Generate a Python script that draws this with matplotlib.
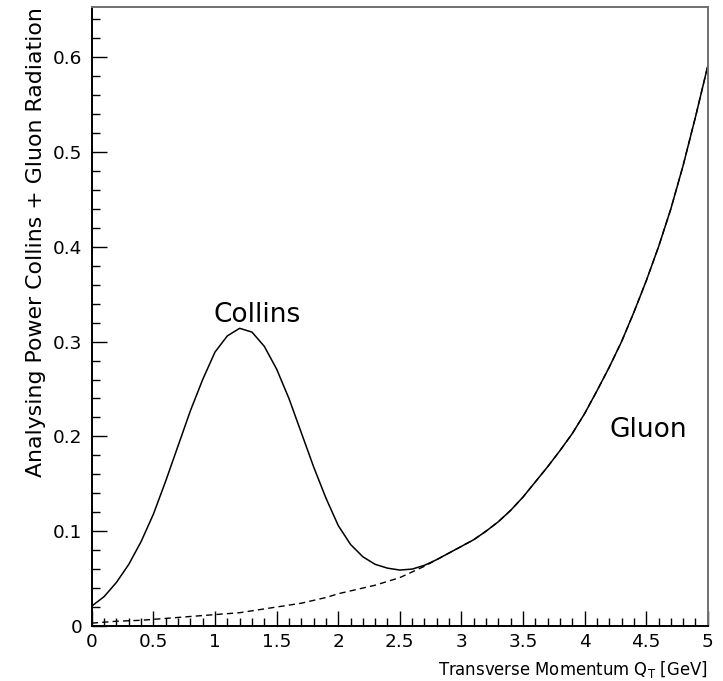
import matplotlib
matplotlib.use("Agg")
import matplotlib.pyplot as plt
from matplotlib.ticker import MultipleLocator

plt.rcParams['font.family'] = ['DejaVu Sans']

qt = [round(0.1 * i, 1) for i in range(51)]

gluon = [0.003, 0.004, 0.005, 0.0055, 0.006, 0.007, 0.008, 0.009, 0.010, 0.011,
         0.012, 0.013, 0.014, 0.016, 0.018, 0.020, 0.022, 0.024, 0.027, 0.030,
         0.034, 0.037, 0.040, 0.043, 0.047, 0.051, 0.057, 0.063, 0.070, 0.077,
         0.084, 0.091, 0.100, 0.110, 0.122, 0.136, 0.152, 0.168, 0.185, 0.203,
         0.224, 0.248, 0.273, 0.300, 0.331, 0.364, 0.400, 0.440, 0.486, 0.537,
         0.591]

total = [0.021, 0.031, 0.046, 0.065, 0.089, 0.118, 0.153, 0.190, 0.227, 0.260,
         0.289, 0.306, 0.314, 0.310, 0.295, 0.271, 0.240, 0.204, 0.168, 0.135,
         0.106, 0.086, 0.073, 0.065, 0.061, 0.059, 0.060, 0.064, 0.070, 0.077,
         0.084, 0.091, 0.100, 0.110, 0.122, 0.136, 0.152, 0.168, 0.185, 0.203,
         0.224, 0.248, 0.273, 0.300, 0.331, 0.364, 0.400, 0.440, 0.486, 0.537,
         0.591]

xticks = [0, 0.5, 1, 1.5, 2, 2.5, 3, 3.5, 4, 4.5, 5]
xticklabels = ['0', '0.5', '1', '1.5', '2', '2.5', '3', '3.5', '4', '4.5', '5']
yticks = [0, 0.1, 0.2, 0.3, 0.4, 0.5, 0.6]
yticklabels = ['0', '0.1', '0.2', '0.3', '0.4', '0.5', '0.6']

xlabel = r'Transverse Momentum Q$_\mathrm{T}$ [GeV]'
ylabel = 'Analysing Power Collins + Gluon Radiation'

fig = plt.figure(figsize=(7.23, 6.81), dpi=100)
ax = fig.add_axes([0.127, 0.0808, 0.852, 0.909])

ax.plot(qt, total, color='black', lw=1.1)
ax.plot(qt, gluon, color='black', lw=1.0, linestyle=(0, (4.5, 3)))

ax.set_xlim(0, 5)
ax.set_ylim(0, 0.653)
ax.xaxis.set_minor_locator(MultipleLocator(0.1))
ax.yaxis.set_minor_locator(MultipleLocator(0.02))
ax.set_xticks(xticks)
ax.set_xticklabels(xticklabels)
ax.set_yticks(yticks)
ax.set_yticklabels(yticklabels)

ax.tick_params(which='both', direction='in', top=False, right=False, width=1.0,
               labelsize=13.3, color='black')
ax.tick_params(which='major', length=11)
ax.tick_params(which='minor', length=6)
ax.tick_params(axis='x', pad=5)
ax.tick_params(axis='y', pad=7)

for s in ['left', 'bottom']:
    ax.spines[s].set_color('black')
    ax.spines[s].set_linewidth(1.4)
for s in ['top', 'right']:
    ax.spines[s].set_color('#707070')
    ax.spines[s].set_linewidth(1.4)

ax.set_xlabel(xlabel, fontsize=11.9, loc='right', labelpad=6)
ax.set_ylabel(ylabel, fontsize=15.8, loc='top', labelpad=5)

ax.text(0.99, 0.328, 'Collins', fontsize=19, ha='left', va='center')
ax.text(4.2, 0.207, 'Gluon', fontsize=19, ha='left', va='center')

fig.savefig('out.png', dpi=100)
